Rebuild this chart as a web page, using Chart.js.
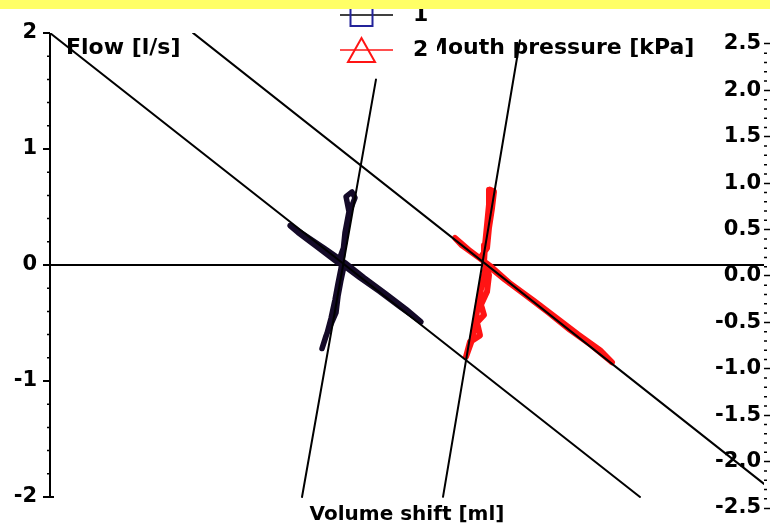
<!DOCTYPE html>
<html>
<head>
<meta charset="utf-8">
<script src="https://cdn.jsdelivr.net/npm/chart.js@4/dist/chart.umd.min.js"></script>
<style>
  html, body { margin: 0; padding: 0; background: #ffffff; }
  canvas { display: block; }
</style>
</head>
<body>
<canvas id="chart" width="770" height="529"></canvas>
<script>
// Run 1: volume shift [ml] against flow [l/s]
const run1Volume = [-6.4, -4.7, -2.7, -0.7, 1.4, -0.1, -2.1, -4.3, -6.2, -8.2, -10.1, -11.7, -10.9, -8.9, -6.9,
                    -6.3, -6.0, -5.7, -5.2, -5.5, -6.1, -5.8, -6.2, -6.4, -6.6, -6.9, -7.2, -7.6, -8.0, -8.5,
                    -8.1, -7.1, -6.9, -6.6, -6.3];
const run1Flow   = [0, -0.11, -0.23, -0.36, -0.49, -0.38, -0.25, -0.11, 0.02, 0.14, 0.25, 0.34, 0.28, 0.15, 0.02,
                    0.16, 0.32, 0.47, 0.58, 0.63, 0.59, 0.46, 0.28, 0.11, -0.03, -0.16, -0.30, -0.46, -0.59, -0.72,
                    -0.61, -0.41, -0.27, -0.13, -0.01];

// Run 2: volume shift [ml] against mouth pressure [kPa]
const run2Volume   = [8.0, 9.8, 11.8, 14.1, 16.3, 18.5, 20.5, 19.3, 17.1, 14.9, 12.6, 10.3, 8.3, 6.3, 4.8, 5.5, 7.3,
                      8.0, 8.2, 8.5, 8.7, 8.3, 8.2, 8.0, 7.8, 7.7,
                      8.2, 8.0, 7.4, 7.7, 7.0, 7.3, 6.3, 5.9, 6.5, 6.9, 7.2, 7.6, 7.9];
const run2Pressure = [0.12, -0.04, -0.20, -0.39, -0.58, -0.75, -0.93, -0.80, -0.63, -0.45, -0.26, -0.08, 0.11, 0.27, 0.41, 0.33, 0.19,
                      0.30, 0.52, 0.73, 0.91, 0.93, 0.77, 0.55, 0.33, 0.15,
                      0.01, -0.17, -0.31, -0.42, -0.50, -0.64, -0.71, -0.87, -0.69, -0.45, -0.24, -0.04, 0.11];

// Straight reference lines (end points)
const flowLineAVolume = [-35.7, 23.3];
const flowLineAFlow   = [2.0, -2.0];
const flowLineBVolume = [-3.1, -10.5];
const flowLineBFlow   = [1.6, -2.0];
const presLineAVolume   = [-21.4, 35.7];
const presLineAPressure = [2.62, -2.24];
const presLineBVolume   = [11.3, 3.6];
const presLineBPressure = [2.54, -2.38];

// Axis ticks
const flowTicks = [-2, -1, 0, 1, 2];
const flowTickLabels = ['-2', '-1', '0', '1', '2'];
const pressureTicks = [-2.5, -2, -1.5, -1, -0.5, 0, 0.5, 1, 1.5, 2, 2.5];
const pressureTickLabels = ['-2.5', '-2.0', '-1.5', '-1.0', '-0.5', '0.0', '0.5', '1.0', '1.5', '2.0', '2.5'];

const seriesLabels = ['1', '2'];
const flowTitle = 'Flow [l/s]';
const pressureTitle = 'Mouth pressure [kPa]';
const volumeTitle = 'Volume shift [ml]';

const pairs = (xs, ys) => xs.map((x, i) => ({ x: x, y: ys[i] }));

Chart.defaults.font.family = "'DejaVu Sans', sans-serif";
Chart.defaults.font.weight = 'bold';
Chart.defaults.color = '#000';

const FONT = "bold 22px 'DejaVu Sans', sans-serif";

// Axis lines, minor ticks, horizontal titles, legend and the top band
const decorations = {
  id: 'decorations',
  afterDraw(chart) {
    const ctx = chart.ctx;
    const area = chart.chartArea;
    const yL = chart.scales.y;
    const yR = chart.scales.y2;
    ctx.save();

    // left axis line, ending with a short foot at -2
    ctx.strokeStyle = '#000';
    ctx.lineWidth = 2;
    ctx.beginPath();
    ctx.moveTo(area.left, yL.getPixelForValue(flowTicks[flowTicks.length - 1]));
    ctx.lineTo(area.left, yL.getPixelForValue(flowTicks[0]));
    ctx.lineTo(area.left + 4, yL.getPixelForValue(flowTicks[0]));
    ctx.stroke();

    // minor ticks: every 0.2 on the flow axis, every 0.1 on the pressure axis
    ctx.lineWidth = 1.5;
    ctx.beginPath();
    for (let i = -20; i <= 20; i += 2) {
      if (i % 10 === 0) continue;
      const py = yL.getPixelForValue(i / 10);
      ctx.moveTo(area.left - 3, py);
      ctx.lineTo(area.left, py);
    }
    for (let i = -25; i <= 25; i++) {
      if (i % 5 === 0) continue;
      const py = yR.getPixelForValue(i / 10);
      ctx.moveTo(area.right, py);
      ctx.lineTo(area.right + 3, py);
    }
    ctx.stroke();

    // horizontal axis titles
    ctx.fillStyle = '#000';
    ctx.font = FONT;
    ctx.textBaseline = 'middle';
    ctx.textAlign = 'left';
    ctx.fillText(flowTitle, 66, 48);
    ctx.fillText(pressureTitle, 426, 48);

    // legend
    const ds = chart.data.datasets;
    const rows = [
      { ds: ds[0], y: 15 },
      { ds: ds[1], y: 50 }
    ];
    rows.forEach((row, k) => {
      const d = row.ds;
      ctx.strokeStyle = d.legendLine;
      ctx.lineWidth = 1.5;
      ctx.beginPath();
      ctx.moveTo(340, row.y);
      ctx.lineTo(393, row.y);
      ctx.stroke();
      ctx.strokeStyle = d.legendMarker;
      ctx.lineWidth = 2;
      ctx.beginPath();
      if (k === 0) {
        ctx.rect(350.5, row.y - 11, 22, 22);
      } else {
        ctx.moveTo(348, row.y + 12);
        ctx.lineTo(375, row.y + 12);
        ctx.lineTo(361.5, row.y - 12);
        ctx.closePath();
      }
      ctx.stroke();
      ctx.fillStyle = '#fff';
      ctx.fillRect(410, row.y - 13, 27, 26);
      ctx.fillStyle = '#000';
      ctx.font = FONT;
      ctx.fillText(d.label, 413, row.y);
    });

    // top band
    ctx.fillStyle = '#ffff66';
    ctx.fillRect(0, 0, chart.width, 9);
    ctx.restore();
  }
};

new Chart(document.getElementById('chart'), {
  type: 'line',
  data: {
    datasets: [
      {
        label: seriesLabels[0],
        data: pairs(run1Volume, run1Flow),
        yAxisID: 'y',
        borderColor: '#140a28',
        borderWidth: 5.5,
        legendLine: '#000',
        legendMarker: '#23239a',
        order: 1
      },
      {
        label: seriesLabels[1],
        data: pairs(run2Volume, run2Pressure),
        yAxisID: 'y2',
        borderColor: '#ff1414',
        borderWidth: 6,
        legendLine: '#ff1414',
        legendMarker: '#ff1414',
        order: 1
      },
      { data: pairs(flowLineAVolume, flowLineAFlow), yAxisID: 'y', borderColor: '#000', borderWidth: 2, order: 0 },
      { data: pairs(flowLineBVolume, flowLineBFlow), yAxisID: 'y', borderColor: '#000', borderWidth: 2, order: 0 },
      { data: pairs(presLineAVolume, presLineAPressure), yAxisID: 'y2', borderColor: '#000', borderWidth: 2, order: 0 },
      { data: pairs(presLineBVolume, presLineBPressure), yAxisID: 'y2', borderColor: '#000', borderWidth: 2, order: 0 }
    ]
  },
  options: {
    responsive: false,
    animation: false,
    layout: { padding: { top: 33, left: 0, right: 0, bottom: 0 } },
    elements: {
      point: { radius: 0, hoverRadius: 0 },
      line: { tension: 0, borderJoinStyle: 'round', borderCapStyle: 'round', fill: false }
    },
    plugins: {
      legend: { display: false },
      tooltip: { enabled: false }
    },
    scales: {
      x: {
        type: 'linear',
        position: 'bottom',
        min: -35.7,
        max: 35.7,
        grid: { display: false },
        border: { display: false },
        ticks: { display: false },
        title: {
          display: true,
          text: volumeTitle,
          color: '#000',
          font: { size: 20, weight: 'bold' },
          padding: { top: 0, bottom: 2 }
        },
        afterFit(scale) { scale.height = 21; }
      },
      y: {
        type: 'linear',
        position: 'left',
        min: -2.0948,
        max: 2,
        afterBuildTicks(scale) { scale.ticks = flowTicks.map(v => ({ value: v })); },
        ticks: {
          autoSkip: false,
          padding: 6,
          color: '#000',
          font: { size: 21, weight: 'bold' },
          callback: (v, i) => flowTickLabels[i]
        },
        grid: {
          color: (c) => (c.tick && c.tick.value === 0 ? '#000' : 'rgba(0,0,0,0)'),
          lineWidth: 2,
          tickColor: '#000',
          tickWidth: 2,
          tickLength: 7
        },
        border: { display: false },
        afterFit(scale) { scale.width = 50; }
      },
      y2: {
        type: 'linear',
        position: 'right',
        min: -2.5,
        max: 2.6185,
        afterBuildTicks(scale) { scale.ticks = pressureTicks.map(v => ({ value: v })); },
        ticks: {
          autoSkip: false,
          mirror: true,
          padding: -3,
          color: '#000',
          font: { size: 21, weight: 'bold' },
          callback: (v, i) => pressureTickLabels[i]
        },
        grid: {
          drawOnChartArea: false,
          tickColor: '#000',
          tickWidth: 1.5,
          tickLength: 6
        },
        border: { display: false },
        afterFit(scale) { scale.width = 6; }
      }
    }
  },
  plugins: [decorations]
});
</script>
</body>
</html>
